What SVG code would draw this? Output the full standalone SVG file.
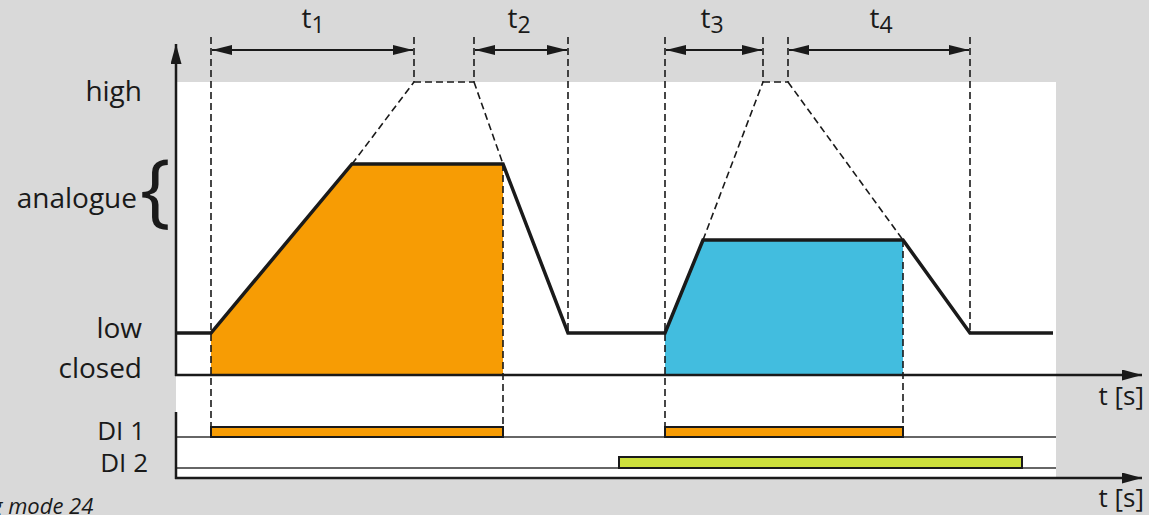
<svg xmlns="http://www.w3.org/2000/svg" width="1149" height="515" viewBox="0 0 1149 515">
<defs>
<style>
.lbl{font-family:"Open Sans","Liberation Sans",sans-serif;font-size:28px;fill:#1a1a1a}
.sm{font-size:26px}
.sub{font-size:23px}
.dash{fill:none;stroke:#1a1a1a;stroke-width:1.6;stroke-dasharray:7 4}
.axis{fill:none;stroke:#1a1a1a;stroke-width:2.5}
.base{fill:none;stroke:#333;stroke-width:1.5}
.sig{fill:none;stroke:#1a1a1a;stroke-width:3.5;stroke-linejoin:miter}
.dim{fill:none;stroke:#1a1a1a;stroke-width:2.2}
</style>
<marker id="ah" viewBox="0 0 20 11" refX="20" refY="5.5" markerWidth="20" markerHeight="11" markerUnits="userSpaceOnUse" orient="auto">
<path d="M0,0 L20,5.5 L0,11 Z" fill="#1a1a1a"/>
</marker>
<marker id="dh" viewBox="0 0 20 10" refX="20" refY="5" markerWidth="20" markerHeight="10" markerUnits="userSpaceOnUse" orient="auto-start-reverse">
<path d="M0,0 L20,5 L0,10 Z" fill="#1a1a1a"/>
</marker>
</defs>
<rect width="1149" height="515" fill="#d9d9d9"/>
<rect x="176" y="82" width="880" height="395" fill="#ffffff"/>

<g id="fills">
<polygon points="211,375 211,333 352,164 503,164 503,375" fill="#f79c04"/>
<polygon points="665,375 665,333 703,240 903,240 903,375" fill="#42bddf"/>
</g>

<g id="di-bars">
<line class="base" x1="176" y1="437" x2="1056" y2="437"/>
<line class="base" x1="176" y1="468" x2="1056" y2="468"/>
<rect x="211" y="427" width="292" height="10" fill="#f79c04" stroke="#1a1a1a" stroke-width="2"/>
<rect x="665" y="427" width="238" height="10" fill="#f79c04" stroke="#1a1a1a" stroke-width="2"/>
<rect x="619" y="457" width="403" height="11" fill="#cde03c" stroke="#1a1a1a" stroke-width="2"/>
</g>

<g id="guides">
<line class="dash" x1="211" y1="37" x2="211" y2="427"/>
<line class="dash" x1="414" y1="37" x2="414" y2="82"/>
<line class="dash" x1="474" y1="37" x2="474" y2="82"/>
<line class="dash" x1="414" y1="82" x2="474" y2="82"/>
<line class="dash" x1="352" y1="164" x2="414" y2="82"/>
<line class="dash" x1="474" y1="82" x2="503" y2="164"/>
<line class="dash" x1="568" y1="37" x2="568" y2="333"/>
<line class="dash" x1="503" y1="164" x2="503" y2="427"/>
<line class="dash" x1="665" y1="37" x2="665" y2="427"/>
<line class="dash" x1="763" y1="37" x2="763" y2="82"/>
<line class="dash" x1="788" y1="37" x2="788" y2="82"/>
<line class="dash" x1="763" y1="82" x2="788" y2="82"/>
<line class="dash" x1="703" y1="240" x2="763" y2="82"/>
<line class="dash" x1="788" y1="82" x2="903" y2="240"/>
<line class="dash" x1="903" y1="240" x2="903" y2="427"/>
<line class="dash" x1="970" y1="37" x2="970" y2="333"/>
</g>

<g id="signal">
<polyline class="sig" points="176,333 211,333 352,164 503,164 568,333 665,333 703,240 903,240 970,333 1053,333"/>
</g>

<g id="axes">
<line class="axis" x1="176" y1="376" x2="176" y2="44" marker-end="url(#ah)"/>
<line class="axis" x1="175" y1="375" x2="1142" y2="375" marker-end="url(#ah)"/>
<line class="axis" x1="176" y1="412" x2="176" y2="479"/>
<line class="axis" x1="175" y1="478" x2="1142" y2="478" marker-end="url(#ah)"/>
</g>

<g id="dimensions">
<line class="dim" x1="212" y1="50" x2="413" y2="50" marker-start="url(#dh)" marker-end="url(#dh)"/>
<line class="dim" x1="475" y1="50" x2="567" y2="50" marker-start="url(#dh)" marker-end="url(#dh)"/>
<line class="dim" x1="666" y1="50" x2="762" y2="50" marker-start="url(#dh)" marker-end="url(#dh)"/>
<line class="dim" x1="789" y1="50" x2="969" y2="50" marker-start="url(#dh)" marker-end="url(#dh)"/>
<text class="lbl" x="313" y="28" text-anchor="middle">t<tspan class="sub" dy="5">1</tspan></text>
<text class="lbl" x="519" y="28" text-anchor="middle">t<tspan class="sub" dy="5">2</tspan></text>
<text class="lbl" x="712" y="28" text-anchor="middle">t<tspan class="sub" dy="5">3</tspan></text>
<text class="lbl" x="881" y="28" text-anchor="middle">t<tspan class="sub" dy="5">4</tspan></text>
</g>

<g id="labels">
<text class="lbl" x="142" y="101" text-anchor="end">high</text>
<text class="lbl" x="137" y="208" text-anchor="end">analogue</text>
<text class="lbl" x="140" y="217" style="font-size:81px">{</text>
<text class="lbl" x="142" y="338" text-anchor="end">low</text>
<text class="lbl" x="142" y="378" text-anchor="end">closed</text>
<text class="lbl sm" x="145" y="440" text-anchor="end">DI 1</text>
<text class="lbl sm" x="148" y="472" text-anchor="end">DI 2</text>
<text class="lbl sm" x="1144" y="405" text-anchor="end">t [s]</text>
<text class="lbl sm" x="1144" y="507" text-anchor="end">t [s]</text>
<text class="lbl" x="-9" y="514" style="font-size:22px;font-style:italic">g mode 24</text>
</g>
</svg>
